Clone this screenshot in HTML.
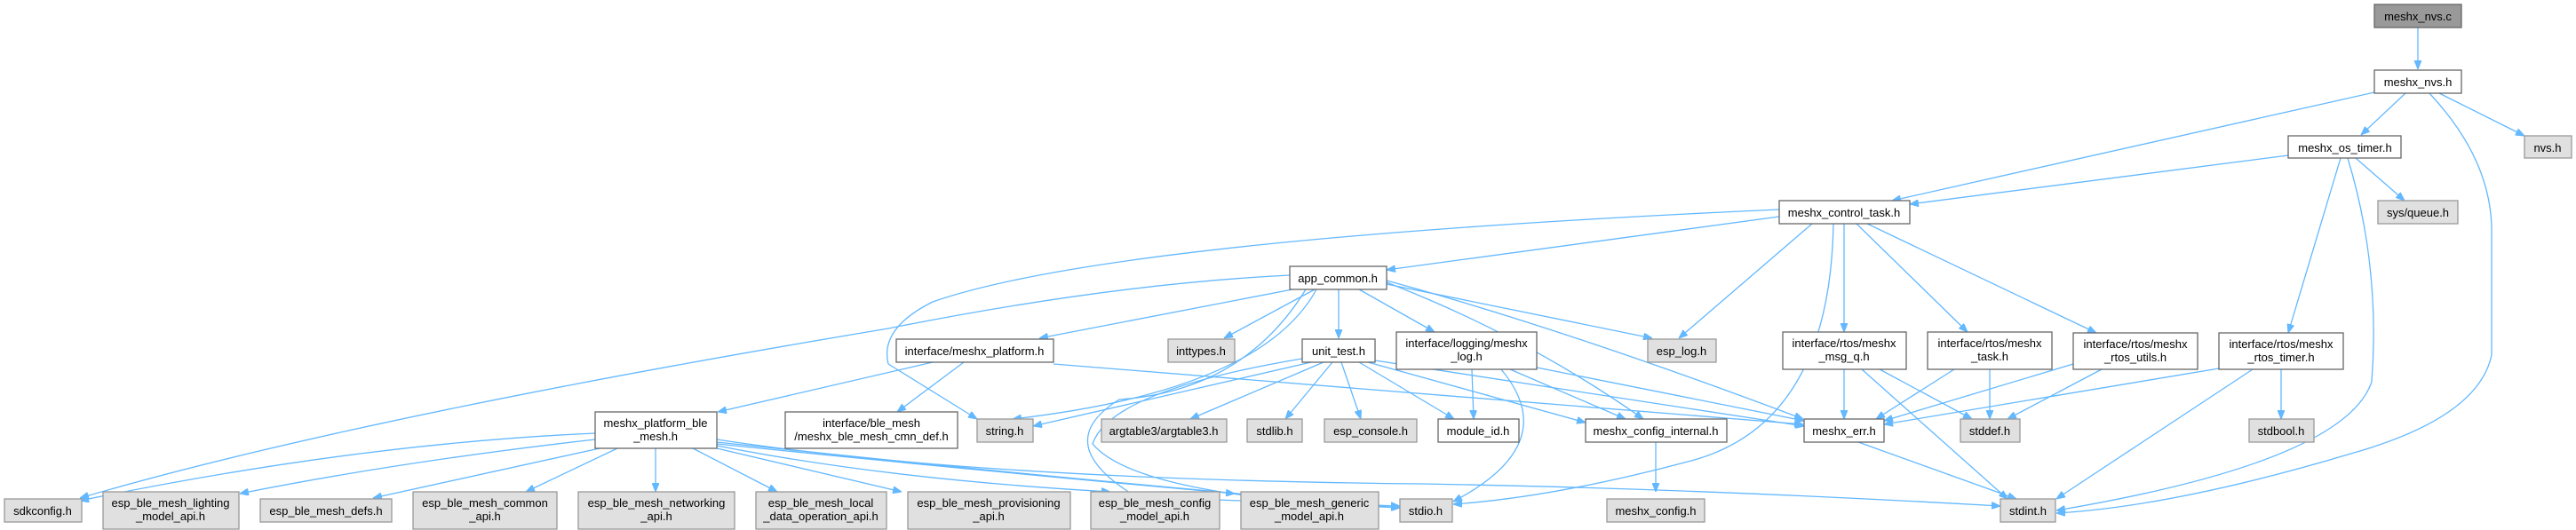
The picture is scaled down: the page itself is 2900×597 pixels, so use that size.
<!DOCTYPE html>
<html><head><meta charset="utf-8"><style>
html,body{margin:0;padding:0;background:#fff;}
svg{display:block;}
text{font-family:"Liberation Sans",Arial,sans-serif;font-size:13px;fill:#000;text-anchor:middle;}
.n{fill:#fff;stroke:#666;stroke-width:1.3;}
.g{fill:#e0e0e0;stroke:#999;stroke-width:1.3;}
.d{fill:#999;stroke:#666;stroke-width:1.3;}
.e{fill:none;stroke:#63b8ff;stroke-width:1.3;marker-end:url(#a);}
</style></head><body>
<svg width="2900" height="597" viewBox="0 0 2900 597" xmlns="http://www.w3.org/2000/svg">
<defs><marker id="a" markerWidth="10" markerHeight="8" refX="10" refY="4" orient="auto" markerUnits="userSpaceOnUse"><polygon points="0,0 10,4 0,8" fill="#63b8ff" stroke="#63b8ff"/></marker></defs>
<g>
<path class="e" d="M2722,31 L2722,78"/>
<path class="e" d="M2673,104 L2130,226"/>
<path class="e" d="M2708,105 L2658,152"/>
<path class="e" d="M2746,105 L2842,153"/>
<path class="e" d="M2735,105 Q2805,180 2805,260 L2805,400 Q2790,470 2650,510 Q2450,570 2315,578"/>
<path class="e" d="M2576,175 L2150,230"/>
<path class="e" d="M2652,178 L2707,226"/>
<path class="e" d="M2635,178 L2576,375"/>
<path class="e" d="M2643,178 Q2680,300 2670,430 Q2640,520 2315,575"/>
<path class="e" d="M2003,244 L1561,304"/>
<path class="e" d="M2003,236 Q1250,270 1050,340 Q990,370 1000,410 L1100,472"/>
<path class="e" d="M2040,252 L1890,381"/>
<path class="e" d="M2076,252 L2076,374"/>
<path class="e" d="M2090,252 L2215,374"/>
<path class="e" d="M2102,252 L2360,375"/>
<path class="e" d="M2064,252 Q2060,480 1900,520 Q1750,560 1636,568"/>
<path class="e" d="M1452,310 Q1250,320 1000,370 Q400,470 90,561"/>
<path class="e" d="M1455,326 L1170,381"/>
<path class="e" d="M1482,326 Q1420,440 1140,472"/>
<path class="e" d="M1480,326 L1378,381"/>
<path class="e" d="M1507,326 L1507,381"/>
<path class="e" d="M1530,326 L1615,374"/>
<path class="e" d="M1561,320 L1860,381"/>
<path class="e" d="M1561,318 Q1720,380 1850,472"/>
<path class="e" d="M1561,316 Q1760,370 2030,472"/>
<path class="e" d="M1470,326 Q1400,440 1260,450 Q1180,500 1280,560 L1576,570"/>
<path class="e" d="M1050,408 L808,464"/>
<path class="e" d="M1085,408 L1010,464"/>
<path class="e" d="M1186,410 L2030,478"/>
<path class="e" d="M1476,408 L1163,480"/>
<path class="e" d="M1490,408 L1340,472"/>
<path class="e" d="M1500,408 L1447,472"/>
<path class="e" d="M1510,408 L1532,472"/>
<path class="e" d="M1530,408 L1637,472"/>
<path class="e" d="M1540,408 L1785,476"/>
<path class="e" d="M1548,406 L2031,480"/>
<path class="e" d="M1466,404 Q1250,440 1230,500 Q1280,560 1576,572"/>
<path class="e" d="M1657,416 L1659,472"/>
<path class="e" d="M1700,416 L1830,472"/>
<path class="e" d="M1730,414 L2031,474"/>
<path class="e" d="M1690,416 Q1760,500 1636,565"/>
<path class="e" d="M2076,416 L2076,472"/>
<path class="e" d="M2116,416 L2220,472"/>
<path class="e" d="M2096,416 L2260,562"/>
<path class="e" d="M2200,416 L2112,472"/>
<path class="e" d="M2240,416 L2240,472"/>
<path class="e" d="M2334,410 L2121,474"/>
<path class="e" d="M2366,416 L2260,472"/>
<path class="e" d="M2498,415 L2121,478"/>
<path class="e" d="M2568,416 L2568,472"/>
<path class="e" d="M2536,416 L2315,562"/>
<path class="e" d="M1864,498 L1864,554"/>
<path class="e" d="M2092,498 L2270,562"/>
<path class="e" d="M670,488 Q400,500 90,564"/>
<path class="e" d="M670,495 Q450,520 270,556"/>
<path class="e" d="M675,505 L420,561"/>
<path class="e" d="M695,505 L592,554"/>
<path class="e" d="M738,505 L738,554"/>
<path class="e" d="M780,505 L875,554"/>
<path class="e" d="M807,505 L1015,554"/>
<path class="e" d="M807,502 Q1000,540 1250,554"/>
<path class="e" d="M807,500 Q1100,530 1390,556"/>
<path class="e" d="M807,498 Q1200,540 1576,572"/>
<path class="e" d="M807,495 Q1100,540 1600,545 Q1900,550 2252,570"/>
</g>
<rect class="d" x="2673" y="5" width="98" height="26"/><text x="2722" y="23">meshx_nvs.c</text>
<rect class="n" x="2673" y="79" width="98" height="26"/><text x="2722" y="97">meshx_nvs.h</text>
<rect class="n" x="2576" y="153" width="127" height="25"/><text x="2640" y="171">meshx_os_timer.h</text>
<rect class="g" x="2842" y="153" width="53" height="25"/><text x="2868" y="171">nvs.h</text>
<rect class="g" x="2677" y="226" width="90" height="26"/><text x="2722" y="244">sys/queue.h</text>
<rect class="n" x="2003" y="226" width="147" height="26"/><text x="2076" y="244">meshx_control_task.h</text>
<rect class="n" x="1452" y="300" width="109" height="26"/><text x="1506" y="318">app_common.h</text>
<rect class="g" x="1315" y="382" width="75" height="26"/><text x="1352" y="400">inttypes.h</text>
<rect class="n" x="1466" y="382" width="82" height="26"/><text x="1507" y="400">unit_test.h</text>
<rect class="n" x="1572" y="374" width="158" height="42"/><text x="1651" y="391">interface/logging/meshx</text><text x="1651" y="406">_log.h</text>
<rect class="g" x="1855" y="382" width="77" height="26"/><text x="1893" y="400">esp_log.h</text>
<rect class="n" x="2007" y="374" width="139" height="42"/><text x="2076" y="391">interface/rtos/meshx</text><text x="2076" y="406">_msg_q.h</text>
<rect class="n" x="2170" y="374" width="140" height="42"/><text x="2240" y="391">interface/rtos/meshx</text><text x="2240" y="406">_task.h</text>
<rect class="n" x="2334" y="375" width="140" height="41"/><text x="2404" y="392">interface/rtos/meshx</text><text x="2404" y="407">_rtos_utils.h</text>
<rect class="n" x="2498" y="375" width="140" height="41"/><text x="2568" y="392">interface/rtos/meshx</text><text x="2568" y="407">_rtos_timer.h</text>
<rect class="n" x="1009" y="382" width="177" height="26"/><text x="1097" y="400">interface/meshx_platform.h</text>
<rect class="n" x="670" y="464" width="137" height="41"/><text x="738" y="481">meshx_platform_ble</text><text x="738" y="496">_mesh.h</text>
<rect class="n" x="884" y="464" width="194" height="41"/><text x="981" y="481">interface/ble_mesh</text><text x="981" y="496">/meshx_ble_mesh_cmn_def.h</text>
<rect class="g" x="1100" y="472" width="63" height="26"/><text x="1131" y="490">string.h</text>
<rect class="g" x="1240" y="472" width="141" height="26"/><text x="1310" y="490">argtable3/argtable3.h</text>
<rect class="g" x="1404" y="472" width="62" height="26"/><text x="1435" y="490">stdlib.h</text>
<rect class="g" x="1491" y="472" width="104" height="26"/><text x="1543" y="490">esp_console.h</text>
<rect class="n" x="1619" y="472" width="91" height="26"/><text x="1664" y="490">module_id.h</text>
<rect class="n" x="1785" y="472" width="159" height="26"/><text x="1864" y="490">meshx_config_internal.h</text>
<rect class="n" x="2031" y="472" width="90" height="26"/><text x="2076" y="490">meshx_err.h</text>
<rect class="g" x="2207" y="472" width="67" height="26"/><text x="2240" y="490">stddef.h</text>
<rect class="g" x="2532" y="472" width="73" height="26"/><text x="2568" y="490">stdbool.h</text>
<rect class="g" x="5" y="562" width="87" height="26"/><text x="48" y="580">sdkconfig.h</text>
<rect class="g" x="116" y="554" width="153" height="42"/><text x="192" y="571">esp_ble_mesh_lighting</text><text x="192" y="586">_model_api.h</text>
<rect class="g" x="293" y="562" width="148" height="26"/><text x="367" y="580">esp_ble_mesh_defs.h</text>
<rect class="g" x="465" y="554" width="162" height="42"/><text x="546" y="571">esp_ble_mesh_common</text><text x="546" y="586">_api.h</text>
<rect class="g" x="651" y="554" width="176" height="42"/><text x="739" y="571">esp_ble_mesh_networking</text><text x="739" y="586">_api.h</text>
<rect class="g" x="851" y="554" width="147" height="42"/><text x="924" y="571">esp_ble_mesh_local</text><text x="924" y="586">_data_operation_api.h</text>
<rect class="g" x="1022" y="554" width="183" height="42"/><text x="1113" y="571">esp_ble_mesh_provisioning</text><text x="1113" y="586">_api.h</text>
<rect class="g" x="1228" y="554" width="145" height="42"/><text x="1300" y="571">esp_ble_mesh_config</text><text x="1300" y="586">_model_api.h</text>
<rect class="g" x="1397" y="554" width="155" height="42"/><text x="1474" y="571">esp_ble_mesh_generic</text><text x="1474" y="586">_model_api.h</text>
<rect class="g" x="1576" y="562" width="59" height="26"/><text x="1605" y="580">stdio.h</text>
<rect class="g" x="1809" y="562" width="110" height="26"/><text x="1864" y="580">meshx_config.h</text>
<rect class="g" x="2252" y="562" width="62" height="26"/><text x="2283" y="580">stdint.h</text>
</svg>
</body></html>
